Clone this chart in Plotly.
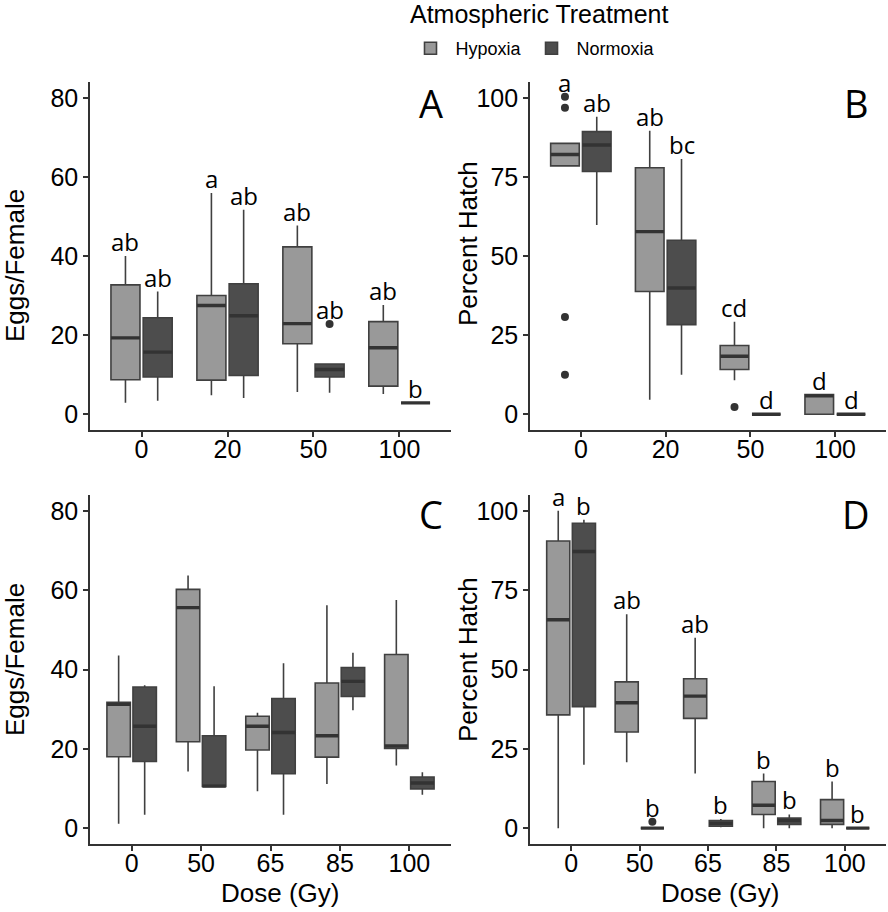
import plotly.graph_objects as go

# ---------------- data ----------------
DOSES_TOP = ["0", "20", "50", "100"]
DOSES_BOTTOM = ["0", "50", "65", "85", "100"]
TREATMENTS = ["Hypoxia", "Normoxia"]

# each box: (lower whisker, Q1, median, Q3, upper whisker)
A_HYPOXIA = [(2.9, 8.7, 19.3, 32.7, 40.0), (4.8, 8.6, 27.5, 30.0, 55.9),
             (5.6, 17.8, 22.9, 42.3, 47.7), (5.1, 7.1, 16.8, 23.4, 27.6)]
A_NORMOXIA = [(3.4, 9.4, 15.7, 24.4, 31.0), (4.1, 9.8, 24.9, 33.0, 51.7),
              (5.4, 9.4, 11.3, 12.7, 12.7), (2.85, 2.85, 2.85, 2.85, 2.85)]
A_HYPOXIA_OUT = [[], [], [], []]
A_NORMOXIA_OUT = [[], [], [22.8], []]
A_HYPOXIA_LETTERS = ["ab", "a", "ab", "ab"]
A_NORMOXIA_LETTERS = ["ab", "ab", "ab", "b"]

B_HYPOXIA = [(78.5, 78.5, 82.1, 85.6, 85.8), (4.6, 38.8, 57.7, 77.9, 89.6),
             (10.7, 14.1, 18.3, 21.7, 29.2), (0.0, 0.0, 5.8, 6.2, 6.2)]
B_NORMOXIA = [(59.8, 76.7, 85.1, 89.3, 94.0), (12.5, 28.3, 39.9, 55.0, 80.7),
              (0.0, 0.0, 0.0, 0.0, 0.0), (0.0, 0.0, 0.0, 0.0, 0.0)]
B_HYPOXIA_OUT = [[100.3, 96.9, 30.7, 12.5], [], [2.3], []]
B_NORMOXIA_OUT = [[], [], [], []]
B_HYPOXIA_LETTERS = ["a", "ab", "cd", "d"]
B_NORMOXIA_LETTERS = ["ab", "bc", "d", "d"]

C_HYPOXIA = [(1.1, 18.0, 31.2, 31.7, 43.5), (14.3, 21.8, 55.6, 60.2, 63.7),
             (9.3, 19.7, 25.7, 28.2, 29.1), (11.1, 17.9, 23.3, 36.6, 56.2),
             (15.8, 20.1, 20.7, 43.8, 57.5)]
C_NORMOXIA = [(3.4, 16.8, 25.7, 35.6, 36.0), (10.5, 10.5, 10.6, 23.3, 35.8),
              (3.4, 13.7, 24.1, 32.7, 41.6), (29.7, 33.2, 37.0, 40.5, 44.2),
              (8.4, 9.9, 11.4, 12.9, 14.1)]
C_HYPOXIA_OUT = [[], [], [], [], []]
C_NORMOXIA_OUT = [[], [], [], [], []]

D_HYPOXIA = [(0.0, 35.7, 65.7, 90.5, 100.0), (20.8, 30.3, 39.5, 46.1, 67.4),
             (17.2, 34.6, 41.6, 47.1, 60.0), (0.0, 4.3, 7.2, 14.7, 17.2),
             (0.0, 1.2, 2.4, 9.0, 14.7)]
D_NORMOXIA = [(20.0, 38.3, 87.2, 96.1, 97.2), (0.0, 0.0, 0.0, 0.0, 0.0),
              (0.3, 0.6, 1.5, 2.4, 2.9), (0.0, 1.2, 2.4, 3.2, 4.3),
              (0.0, 0.0, 0.0, 0.0, 0.0)]
D_HYPOXIA_OUT = [[], [], [], [], []]
D_NORMOXIA_OUT = [[], [2.0], [], [], []]
D_HYPOXIA_LETTERS = ["a", "ab", "ab", "b", "b"]
D_NORMOXIA_LETTERS = ["b", "b", "b", "b", "b"]

# ---------------- style ----------------
W, H = 888, 912
FILL = {"Hypoxia": "#999999", "Normoxia": "#4d4d4d"}
EDGE = "#404040"
AXIS_COLOR = "#333333"
SANS = "Liberation Sans, Arial"
TICK_FONT = dict(family=SANS, size=25, color="black")
LETTER_FONT = dict(family="Open Sans", size=24, color="black")
DODGE = 0.1875
BOX_W = 0.3375

def px_x(p):
    return p / W

def px_y(p):
    return 1 - p / H

fig = go.Figure()

panels = [
    ("A", "x", "y", DOSES_TOP, A_HYPOXIA, A_NORMOXIA, A_HYPOXIA_OUT, A_NORMOXIA_OUT,
     A_HYPOXIA_LETTERS, A_NORMOXIA_LETTERS),
    ("B", "x2", "y2", DOSES_TOP, B_HYPOXIA, B_NORMOXIA, B_HYPOXIA_OUT, B_NORMOXIA_OUT,
     B_HYPOXIA_LETTERS, B_NORMOXIA_LETTERS),
    ("C", "x3", "y3", DOSES_BOTTOM, C_HYPOXIA, C_NORMOXIA, C_HYPOXIA_OUT, C_NORMOXIA_OUT,
     None, None),
    ("D", "x4", "y4", DOSES_BOTTOM, D_HYPOXIA, D_NORMOXIA, D_HYPOXIA_OUT, D_NORMOXIA_OUT,
     D_HYPOXIA_LETTERS, D_NORMOXIA_LETTERS),
]

annotations = []
for pi, (name, xa, ya, cats, hyp, nor, hyp_out, nor_out, hyp_let, nor_let) in enumerate(panels):
    for ti, (tname, stats, outs, lets) in enumerate(
            [("Hypoxia", hyp, hyp_out, hyp_let), ("Normoxia", nor, nor_out, nor_let)]):
        off = -DODGE if ti == 0 else DODGE
        pos = [i + off for i in range(len(cats))]
        lo = [s[0] for s in stats]
        q1 = [s[1] for s in stats]
        med = [s[2] for s in stats]
        q3 = [s[3] for s in stats]
        hi = [s[4] for s in stats]
        fig.add_trace(go.Box(
            x=pos, q1=q1, median=med, q3=q3, lowerfence=lo, upperfence=hi,
            width=BOX_W, boxpoints=False, fillcolor=FILL[tname],
            line=dict(color=EDGE, width=1.6), whiskerwidth=0,
            name=tname, legendgroup=tname, showlegend=(pi == 0),
            xaxis=xa, yaxis=ya, hoverinfo="skip"))
        # thicker median bar
        fig.add_trace(go.Box(
            x=pos, q1=med, median=med, q3=med, lowerfence=med, upperfence=med,
            width=BOX_W, boxpoints=False, fillcolor="rgba(0,0,0,0)",
            line=dict(color="#333333", width=3.4), whiskerwidth=0,
            showlegend=False, legendgroup=tname, xaxis=xa, yaxis=ya, hoverinfo="skip"))
        ox, oy = [], []
        for i, vals in enumerate(outs):
            for v in vals:
                ox.append(pos[i])
                oy.append(v)
        if ox:
            fig.add_trace(go.Scatter(
                x=ox, y=oy, mode="markers",
                marker=dict(color="#333333", size=8),
                showlegend=False, xaxis=xa, yaxis=ya, hoverinfo="skip"))
        if lets:
            for i, t in enumerate(lets):
                top = max([hi[i]] + outs[i])
                annotations.append(dict(
                    x=pos[i], y=top, xref=xa, yref=ya, text=t, showarrow=False,
                    yanchor="bottom", xanchor="center", yshift=-4, font=LETTER_FONT))

# ---------------- layout ----------------
def xaxis(domain, cats, anchor):
    return dict(domain=domain, anchor=anchor, range=[-0.6, len(cats) - 0.4],
                tickmode="array", tickvals=list(range(len(cats))), ticktext=cats,
                showline=True, linecolor=AXIS_COLOR, linewidth=1.6,
                ticks="outside", ticklen=5, tickwidth=1.6, tickcolor=AXIS_COLOR,
                ticklabelstandoff=-9,
                showgrid=False, zeroline=False, tickfont=TICK_FONT)

def yaxis(domain, rng, dtick, anchor):
    return dict(domain=domain, anchor=anchor, range=rng, tick0=0, dtick=dtick,
                showline=True, linecolor=AXIS_COLOR, linewidth=1.6,
                ticks="outside", ticklen=5, tickwidth=1.6, tickcolor=AXIS_COLOR,
                showgrid=False, zeroline=False, tickfont=TICK_FONT)

XL = [px_x(90), px_x(451)]
XR = [px_x(530), px_x(886)]
YT = [px_y(430), px_y(82)]
YB = [px_y(844), px_y(495)]

title_font = dict(family=SANS, size=26, color="black")
panel_font = dict(family="Open Sans", size=38, color="black")
extra = [
    dict(text="Eggs/Female", x=px_x(15), y=px_y(266), textangle=-90, font=title_font),
    dict(text="Eggs/Female", x=px_x(15), y=px_y(660), textangle=-90, font=title_font),
    dict(text="Percent Hatch", x=px_x(468), y=px_y(243), textangle=-90, font=title_font),
    dict(text="Percent Hatch", x=px_x(468), y=px_y(659), textangle=-90, font=title_font),
    dict(text="Dose (Gy)", x=px_x(280), y=px_y(893), font=title_font),
    dict(text="Dose (Gy)", x=px_x(720), y=px_y(893), font=title_font),
    dict(text="A", x=px_x(431), y=px_y(103), font=panel_font),
    dict(text="B", x=px_x(856), y=px_y(103), font=panel_font),
    dict(text="C", x=px_x(431), y=px_y(514), font=panel_font),
    dict(text="D", x=px_x(856), y=px_y(514), font=panel_font),
    dict(text="Atmospheric Treatment", x=px_x(539), y=px_y(14),
         font=dict(family=SANS, size=25, color="black")),
]
for a in extra:
    a.update(xref="paper", yref="paper", showarrow=False, xanchor="center", yanchor="middle")
annotations += extra

fig.update_layout(
    width=W, height=H, margin=dict(l=0, r=0, t=0, b=0),
    paper_bgcolor="white", plot_bgcolor="white", boxmode="overlay",
    xaxis=xaxis(XL, DOSES_TOP, "y"),
    yaxis=yaxis(YT, [-4, 84], 20, "x"),
    xaxis2=xaxis(XR, DOSES_TOP, "y2"),
    yaxis2=yaxis(YT, [-5, 105], 25, "x2"),
    xaxis3=xaxis(XL, DOSES_BOTTOM, "y3"),
    yaxis3=yaxis(YB, [-4, 84], 20, "x3"),
    xaxis4=xaxis(XR, DOSES_BOTTOM, "y4"),
    yaxis4=yaxis(YB, [-5, 105], 25, "x4"),
    annotations=annotations,
    legend=dict(orientation="h", x=px_x(533), xanchor="center", y=px_y(30), yanchor="top",
                font=dict(family=SANS, size=18, color="black"),
                itemwidth=40, bgcolor="rgba(0,0,0,0)"),
)

fig.write_html("out.html", config={"displayModeBar": False},
               post_script="document.body.style.margin='0';")
